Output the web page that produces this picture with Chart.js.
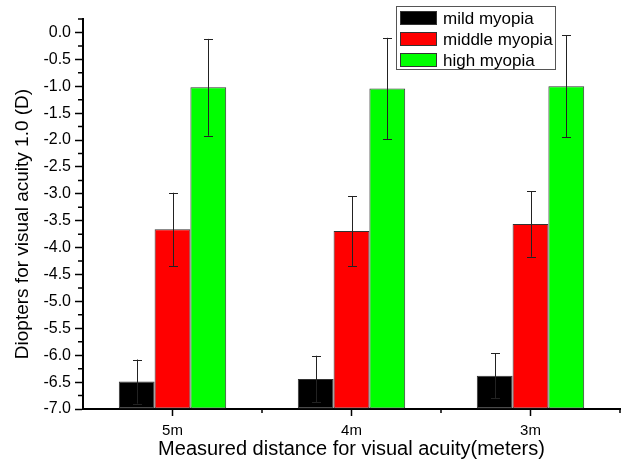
<!DOCTYPE html>
<html>
<head>
<meta charset="utf-8">
<script src="https://cdn.jsdelivr.net/npm/chart.js@4/dist/chart.umd.min.js"></script>
<style>
  html, body { margin: 0; padding: 0; background: #fff; }
  #wrap { width: 624px; height: 461px; }
</style>
</head>
<body>
<div id="wrap"><canvas id="c" width="624" height="461"></canvas></div>
<script>
const categories = ['5m', '4m', '3m'];
const seriesNames = ['mild myopia', 'middle myopia', 'high myopia'];
const mildValues   = [-6.49, -6.44, -6.38];
const mildErrors   = [0.41, 0.43, 0.42];
const middleValues = [-3.66, -3.69, -3.56];
const middleErrors = [0.68, 0.65, 0.61];
const highValues   = [-1.02, -1.04, -1.00];
const highErrors   = [0.90, 0.94, 0.95];
const yTickValues  = [-7.0, -6.5, -6.0, -5.5, -5.0, -4.5, -4.0, -3.5, -3.0, -2.5, -2.0, -1.5, -1.0, -0.5, 0.0];
const yTitle = 'Diopters for visual acuity 1.0 (D)';
const xTitle = 'Measured distance for visual acuity(meters)';
const Y_MIN = -7, Y_MAX = 0.25;

const FONT = "'Liberation Sans', Arial, sans-serif";
const colors = ['#000000', '#ff0000', '#00ff00'];
const errs = [mildErrors, middleErrors, highErrors];

const errorBarPlugin = {
  id: 'errorBars',
  afterDatasetsDraw(chart) {
    const ctx = chart.ctx, y = chart.scales.y;
    ctx.save();
    ctx.strokeStyle = '#222';
    ctx.lineWidth = 1;
    chart.data.datasets.forEach((ds, di) => {
      const meta = chart.getDatasetMeta(di);
      meta.data.forEach((bar, i) => {
        const v = ds.data[i], e = errs[di][i];
        const x = Math.round(bar.x) + 0.5;
        const yt = y.getPixelForValue(v + e), yb = y.getPixelForValue(v - e);
        ctx.beginPath();
        ctx.moveTo(x, yt); ctx.lineTo(x, yb);
        ctx.moveTo(x - 4.5, Math.round(yt) + 0.5); ctx.lineTo(x + 4.5, Math.round(yt) + 0.5);
        ctx.moveTo(x - 4.5, Math.round(yb) + 0.5); ctx.lineTo(x + 4.5, Math.round(yb) + 0.5);
        ctx.stroke();
      });
    });
    ctx.restore();
  }
};

const minorTickPlugin = {
  id: 'minorTicks',
  afterDraw(chart) {
    const ctx = chart.ctx, y = chart.scales.y, a = chart.chartArea;
    ctx.save();
    ctx.strokeStyle = '#000';
    ctx.lineWidth = 1.5;
    ctx.beginPath();
    for (let v = Y_MIN + 0.25; v <= Y_MAX + 1e-9; v += 0.5) {
      const py = y.getPixelForValue(v);
      ctx.moveTo(a.left - 5, py); ctx.lineTo(a.left, py);
    }
    const step = (a.right - a.left) / categories.length;
    for (let i = 1; i <= categories.length; i++) {
      const px = a.left + step * i;
      ctx.moveTo(px, a.bottom); ctx.lineTo(px, a.bottom + 4);
    }
    ctx.stroke();
    // y axis title
    ctx.translate(23, 224);
    ctx.rotate(-Math.PI / 2);
    ctx.font = '19px ' + FONT;
    ctx.fillStyle = '#000';
    ctx.textAlign = 'center';
    ctx.textBaseline = 'middle';
    ctx.fillText(yTitle, 0, 0);
    ctx.restore();
  }
};

const legendPlugin = {
  id: 'boxLegend',
  afterDraw(chart) {
    const ctx = chart.ctx;
    ctx.save();
    const bx = 396.5, by = 6.5, bw = 159, bh = 63;
    ctx.fillStyle = '#fff';
    ctx.fillRect(bx, by, bw, bh);
    ctx.strokeStyle = '#555';
    ctx.lineWidth = 1;
    ctx.strokeRect(bx, by, bw, bh);
    ctx.font = '17px ' + FONT;
    ctx.textBaseline = 'middle';
    chart.data.datasets.forEach((ds, i) => {
      const cy = 18 + i * 21;
      ctx.fillStyle = ds.backgroundColor;
      ctx.fillRect(400, cy - 7, 37, 14);
      ctx.strokeStyle = '#333';
      ctx.strokeRect(400.5, cy - 6.5, 36, 13);
      ctx.fillStyle = '#000';
      ctx.fillText(ds.label, 443, cy + 1);
    });
    ctx.restore();
  }
};

new Chart(document.getElementById('c'), {
  type: 'bar',
  data: {
    labels: categories,
    datasets: [mildValues, middleValues, highValues].map((vals, i) => ({
      label: seriesNames[i],
      data: vals,
      backgroundColor: colors[i],
      borderColor: '#333',
      borderWidth: 1,
      borderSkipped: false,
      base: Y_MIN,
      barPercentage: 1.0,
      categoryPercentage: 0.6
    }))
  },
  options: {
    responsive: false,
    animation: false,
    layout: { padding: { top: 19, right: 4, left: 0, bottom: 0 } },
    plugins: { legend: { display: false }, tooltip: { enabled: false } },
    scales: {
      x: {
        afterFit(s) { s.height = 52; },
        grid: { offset: false, drawOnChartArea: false, drawTicks: true, tickLength: 7, tickColor: '#000', tickWidth: 1.5 },
        border: { display: true, color: '#000', width: 2 },
        ticks: { color: '#000', font: { family: FONT, size: 15 }, padding: 6 },
        title: { display: true, text: xTitle, color: '#000', font: { family: FONT, size: 20 }, padding: { top: 0, bottom: 0 } }
      },
      y: {
        min: Y_MIN, max: Y_MAX,
        afterFit(s) { s.width = 83; },
        afterBuildTicks(s) { s.ticks = yTickValues.map(v => ({ value: v })); },
        grid: { drawOnChartArea: false, drawTicks: true, tickLength: 8, tickColor: '#000', tickWidth: 1.5 },
        border: { display: true, color: '#000', width: 2 },
        ticks: { color: '#000', font: { family: FONT, size: 16 }, padding: 4, callback: v => Number(v).toFixed(1) },
        title: { display: false }
      }
    }
  },
  plugins: [errorBarPlugin, minorTickPlugin, legendPlugin]
});
</script>
</body>
</html>
